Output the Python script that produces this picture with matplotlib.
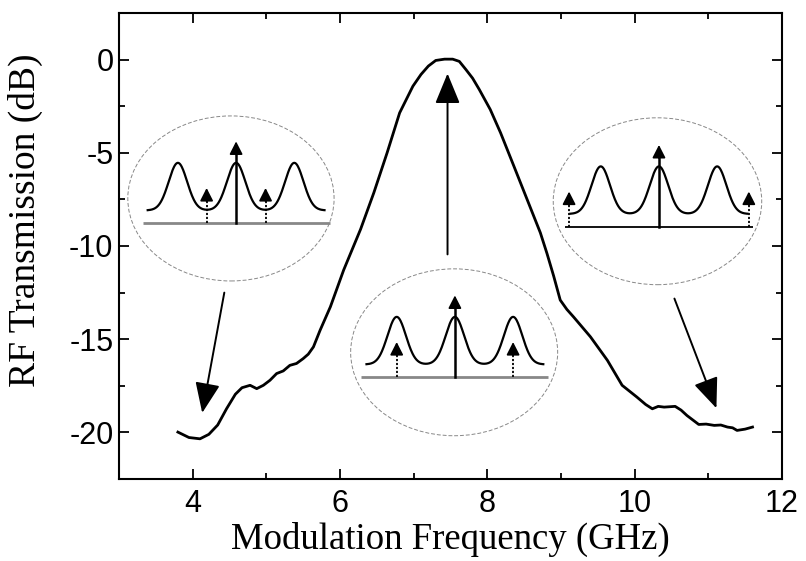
import matplotlib
matplotlib.use('Agg')
import matplotlib.pyplot as plt
import numpy as np
from matplotlib.patches import Ellipse

plt.rcParams['axes.unicode_minus'] = False

# measured RF transmission vs modulation frequency
freq_ghz = [3.80, 3.95, 4.10, 4.22, 4.34, 4.46, 4.58, 4.67, 4.78, 4.87,
            4.96, 5.05, 5.14, 5.23, 5.32, 5.41, 5.50, 5.57, 5.64, 5.73,
            5.87, 6.05, 6.28, 6.46, 6.64, 6.81, 6.99, 7.10, 7.20, 7.30,
            7.42, 7.53, 7.62, 7.71, 7.80, 7.89, 8.04, 8.18, 8.36, 8.54,
            8.72, 8.81, 8.90, 8.99, 9.08, 9.17, 9.40, 9.63, 9.83, 10.03,
            10.15, 10.24, 10.32, 10.40, 10.55, 10.63, 10.71, 10.87, 10.97, 11.08,
            11.17, 11.26, 11.33, 11.39, 11.50, 11.60]
trans_db = [-19.98, -20.27, -20.34, -20.10, -19.60, -18.73, -17.95, -17.60, -17.47, -17.65,
            -17.47, -17.20, -16.84, -16.70, -16.40, -16.30, -16.04, -15.80, -15.41, -14.52,
            -13.26, -11.29, -9.10, -7.14, -5.00, -2.86, -1.43, -0.80, -0.35, -0.05,
            0.02, 0.02, -0.10, -0.54, -1.00, -1.60, -2.68, -3.93, -5.71, -7.50,
            -9.29, -10.40, -11.60, -12.90, -13.40, -13.80, -14.87, -16.13, -17.47, -18.10,
            -18.50, -18.73, -18.60, -18.64, -18.60, -18.80, -19.09, -19.57, -19.55, -19.62,
            -19.60, -19.71, -19.75, -19.89, -19.82, -19.71]

# schematic insets: centre peak freq, baseline level, sideband offset, baseline colour
inset_center = [4.59, 7.56, 10.33]
inset_base = [-8.79, -17.05, -8.98]
inset_side = [0.40, 0.79, 1.22]
inset_base_color = ['#888888', '#888888', 'black']
ellipse_center = [(4.52, -7.45), (7.55, -15.7), (10.31, -7.6)]
ellipse_size = [(2.8, 8.85), (2.81, 8.95), (2.83, 8.95)]

# pointer arrows (tail, tip)
arrow_tail = [(4.43, -12.5), (7.46, -10.45), (10.54, -12.82)]
arrow_tip = [(4.13, -18.95), (7.46, -0.75), (11.11, -18.7)]

PEAK_SPACING = 0.79
PEAK_SIGMA = 0.125
PEAK_H = 2.55
BASE_OFF = 0.7
CARRIER_H = 4.4
SIDE_H = 1.9


def head(ax, x, y_top, lw=1.3, ms=14):
    ax.annotate('', xy=(x, y_top), xytext=(x, y_top - 0.7),
                arrowprops=dict(arrowstyle='-|>,head_length=0.55,head_width=0.28',
                                color='black', lw=lw, mutation_scale=ms,
                                shrinkA=0, shrinkB=0))


def draw_inset(ax, i):
    xc, yb, side = inset_center[i], inset_base[i], inset_side[i]
    ax.add_patch(Ellipse(ellipse_center[i], *ellipse_size[i], fill=False,
                         edgecolor='#888888', lw=0.7, linestyle=(0, (4, 2))))
    ax.plot([xc - 1.27, xc + 1.27], [yb, yb], color=inset_base_color[i],
            lw=2.0 if i < 2 else 1.3, solid_capstyle='butt')
    f = np.linspace(xc - 1.2, xc + 1.2, 400)
    g = sum(np.exp(-(f - xc - k * PEAK_SPACING) ** 2 / (2 * PEAK_SIGMA ** 2))
            for k in (-1, 0, 1))
    ax.plot(f, yb + BASE_OFF + PEAK_H * g, color='black', lw=1.6)
    # carrier
    ax.plot([xc, xc], [yb, yb + CARRIER_H - 0.6], color='black', lw=1.8)
    head(ax, xc, yb + CARRIER_H)
    # sidebands
    for s in (-side, side):
        ax.plot([xc + s, xc + s], [yb, yb + SIDE_H - 0.6], color='black',
                lw=1.3, linestyle=(0, (1.2, 1.0)))
        head(ax, xc + s, yb + SIDE_H)


fig = plt.figure(figsize=(8.06, 5.61), dpi=100)
ax = fig.add_axes([0.1476, 0.146, 0.8226, 0.831])

ax.plot(freq_ghz, trans_db, color='black', lw=2.0, zorder=3)

for i in range(3):
    draw_inset(ax, i)

for t, h in zip(arrow_tail, arrow_tip):
    ax.annotate('', xy=h, xytext=t,
                arrowprops=dict(arrowstyle='-|>,head_length=0.85,head_width=0.35',
                                color='black', lw=1.4, mutation_scale=22,
                                shrinkA=0, shrinkB=0))

ax.set_xlim(3, 12)
ax.set_ylim(-22.5, 2.5)
ax.set_xticks([4, 6, 8, 10, 12])
ax.set_xticks([5, 7, 9, 11], minor=True)
ax.set_yticks([0, -5, -10, -15, -20])
ax.set_yticks([-2.5, -7.5, -12.5, -17.5], minor=True)
ax.tick_params(which='both', direction='in', top=True, right=True, width=1.3)
ax.tick_params(which='major', length=7, labelsize=22, pad=4)
ax.tick_params(axis='x', which='major', pad=7)
ax.tick_params(which='minor', length=4)
for lab in ax.get_xticklabels() + ax.get_yticklabels():
    lab.set_fontfamily('Liberation Sans')
for sp in ax.spines.values():
    sp.set_linewidth(1.5)

ax.set_xlabel('Modulation Frequency (GHz)', fontsize=26.5,
              fontfamily='Liberation Serif', labelpad=2)
ax.set_ylabel('RF Transmission (dB)', fontsize=27,
              fontfamily='Liberation Serif')
ax.yaxis.set_label_coords(-0.114, 0.555)

fig.savefig('out.png', dpi=100)
